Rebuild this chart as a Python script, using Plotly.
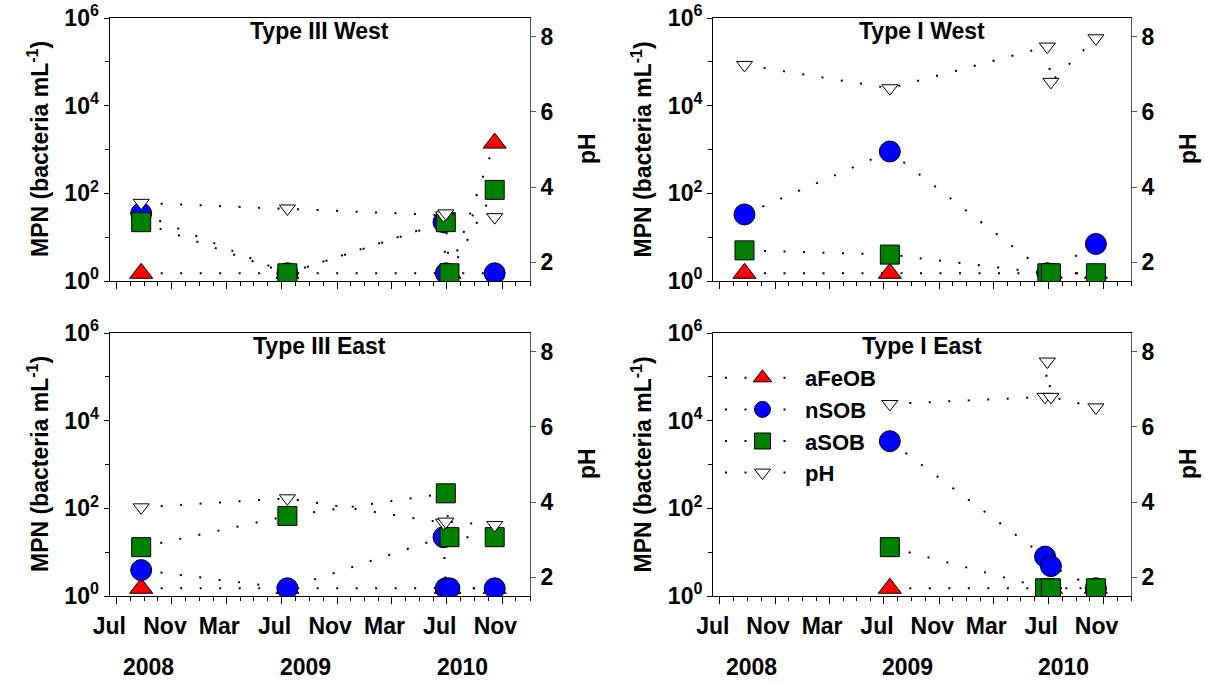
import plotly.graph_objects as go

# Sampling dates shared by all four sites (three visits cluster around July 2010)
sample_dates = ["2008-08-25", "2009-07-14", "2010-06-24", "2010-06-29", "2010-07-07", "2010-10-15"]

# MPN counts (bacteria per mL) and pH per site; None = not sampled for that series
t3w_afeob = [1.5, 1.5, None, None, 1.5, 1400]
t3w_nsob = [35, 1.5, 22, 1.5, None, 1.5]
t3w_asob = [22, 1.5, None, 22, 1.5, 120]
t3w_ph = [3.58, 3.43, 3.25, 3.3, None, 3.2]

t1w_afeob = [1.5, 1.5, None, None, 1.5, 1.5]
t1w_nsob = [33, 900, None, 1.5, None, 7]
t1w_asob = [5, 4, None, 1.5, 1.5, 1.5]
t1w_ph = [7.25, 6.63, None, 7.74, 6.8, 7.96]

t3e_afeob = [1.5, 1.5, None, 1.5, 1.5, 1.5]
t3e_nsob = [3.9, 1.5, 22, 1.5, 1.5, 1.5]
t3e_asob = [13, 67, None, 220, 22, 22]
t3e_ph = [3.86, 4.1, 3.45, 3.48, None, 3.39]

t1e_afeob = [None, 1.5, None, None, 1.5, 1.5]
t1e_nsob = [None, 3400, 7.9, None, 4.8, 1.5]
t1e_asob = [None, 13, 1.5, None, 1.5, 1.5]
t1e_ph = [None, 6.61, 6.8, 7.74, 6.8, 6.52]

panel_titles = ["Type III West", "Type I West", "Type III East", "Type I East"]
panel_data = [
    (t3w_afeob, t3w_nsob, t3w_asob, t3w_ph),
    (t1w_afeob, t1w_nsob, t1w_asob, t1w_ph),
    (t3e_afeob, t3e_nsob, t3e_asob, t3e_ph),
    (t1e_afeob, t1e_nsob, t1e_asob, t1e_ph),
]
series_names = ["aFeOB", "nSOB", "aSOB", "pH"]

month_ticks = ["2008-07-01", "2008-11-01", "2009-03-01", "2009-07-01",
               "2009-11-01", "2010-03-01", "2010-07-01", "2010-11-01"]
month_labels = ["Jul", "Nov", "Mar", "Jul", "Nov", "Mar", "Jul", "Nov"]
year_labels = ["2008", "2009", "2010"]
year_label_dates = ["2008-09-10", "2009-08-23", "2010-08-04"]

mpn_ticks = [1, 100, 1e4, 1e6]
mpn_labels = ["10<sup>0</sup>", "10<sup>2</sup>", "10<sup>4</sup>", "10<sup>6</sup>"]
ph_ticks = [2, 4, 6, 8]

W, H = 1205, 684
FONT = "Liberation Sans, Arial, sans-serif"
FS = 23

marker_styles = {
    "aFeOB": dict(symbol="triangle-up", size=20, color="#FF0000"),
    "nSOB": dict(symbol="circle", size=21, color="#0000FF"),
    "aSOB": dict(symbol="square", size=19, color="#008000"),
    "pH": dict(symbol="triangle-down", size=14, color="#FFFFFF"),
}

# panel boxes in pixels: (left, right, top, bottom)
boxes = [(109.5, 530, 18, 281), (713, 1131, 18, 281),
         (109.5, 530, 333, 596), (713, 1131, 333, 596)]

fig = go.Figure()
layout = dict(
    template="none",
    width=W, height=H,
    margin=dict(l=0, r=0, t=0, b=0, pad=0, autoexpand=False),
    paper_bgcolor="white", plot_bgcolor="rgba(0,0,0,0)",
    font=dict(family=FONT, size=FS, color="black", weight="bold"),
    annotations=[],
)

for i, (title, data) in enumerate(zip(panel_titles, panel_data)):
    n = i + 1
    xname = "x" if n == 1 else f"x{n}"
    ylog = "y" if n == 1 else f"y{2 * n - 1}"
    yph = f"y{2 * n}"
    l, r, t, b = boxes[i]
    xdom = [l / W, r / W]
    ydom = [1 - b / H, 1 - t / H]
    bottom_row = i >= 2

    for name, vals in zip(series_names, data):
        ms = marker_styles[name]
        fig.add_trace(go.Scatter(
            x=sample_dates, y=vals, name=name,
            mode="lines+markers", connectgaps=True,
            xaxis=xname, yaxis=yph if name == "pH" else ylog,
            line=dict(color="black", width=2, dash="2px,17.5px"),
            marker=dict(symbol=ms["symbol"], size=ms["size"], color=ms["color"],
                        line=dict(color="black", width=1)),
            showlegend=(i == 3),
            hoverinfo="skip",
        ))

    xkey = "xaxis" if n == 1 else f"xaxis{n}"
    ylogkey = "yaxis" if n == 1 else f"yaxis{2 * n - 1}"
    yphkey = f"yaxis{2 * n}"

    layout[xkey] = dict(
        domain=xdom, anchor=ylog, type="date", automargin=False,
        range=["2008-06-16", "2011-01-01"],
        showline=True, linecolor="black", linewidth=1, mirror=True,
        ticks="outside", ticklen=7, tickwidth=1, tickcolor="black",
        tickmode="array", tickvals=month_ticks, ticktext=month_labels,
        showticklabels=bottom_row, ticklabelshift=-7, ticklabelstandoff=2,
        tickfont=dict(size=FS, weight="bold"),
        minor=dict(dtick="M1", tick0="2008-07-01", ticks="outside",
                   ticklen=4, tickwidth=1, tickcolor="black"),
        showgrid=False, zeroline=False, fixedrange=True,
    )
    layout[ylogkey] = dict(
        domain=ydom, anchor=xname, type="log", range=[0, 6], automargin=False,
        showline=True, linecolor="black", linewidth=1,
        ticks="outside", ticklen=5, tickwidth=1, tickcolor="black",
        tickmode="array", tickvals=mpn_ticks, ticktext=mpn_labels,
        tickfont=dict(size=FS, weight="bold"),
        minor=dict(tickvals=[10, 1000, 1e5], ticks="outside", ticklen=4,
                   tickwidth=1, tickcolor="black"),
        showgrid=False, zeroline=False, fixedrange=True,
    )
    layout[yphkey] = dict(
        overlaying=ylog, anchor=xname, side="right", range=[1.5, 8.5],
        automargin=False,
        showline=True, linecolor="#555555", linewidth=1,
        ticks="outside", ticklen=5, tickwidth=1, tickcolor="#555555",
        tickmode="array", tickvals=ph_ticks,
        tickfont=dict(size=FS, weight="bold"),
        showgrid=False, zeroline=False, fixedrange=True,
    )

    cx = (l + r) / 2 / W
    cy = 1 - (t + b) / 2 / H
    layout["annotations"].append(dict(
        text=title, xref="paper", yref="paper", x=cx, y=1 - (t + 13) / H,
        xanchor="center", yanchor="middle", showarrow=False,
        font=dict(size=FS, weight="bold")))
    layout["annotations"].append(dict(
        text="MPN (bacteria mL<sup>-1</sup>)", xref="paper", yref="paper",
        x=(l - 72) / W, y=cy, xanchor="center", yanchor="middle",
        textangle=-90, showarrow=False, font=dict(size=FS, weight="bold")))
    layout["annotations"].append(dict(
        text="pH", xref="paper", yref="paper", x=(r + 57) / W,
        y=1 - (t + 131) / H, xanchor="center", yanchor="middle",
        textangle=-90, showarrow=False, font=dict(size=FS, weight="bold")))

    if bottom_row:
        for yl, yd in zip(year_labels, year_label_dates):
            layout["annotations"].append(dict(
                text=yl, xref=xname, yref="paper", x=yd, y=1 - 667 / H,
                xanchor="center", yanchor="middle", showarrow=False,
                font=dict(size=FS, weight="bold")))

layout["legend"] = dict(
    x=720 / W, y=1 - 357 / H, xanchor="left", yanchor="top",
    bgcolor="rgba(0,0,0,0)", itemwidth=75, tracegroupgap=0,
    font=dict(size=22, weight="bold"), itemsizing="trace",
)

fig.update_layout(**layout)
fig.write_html("out.html")
